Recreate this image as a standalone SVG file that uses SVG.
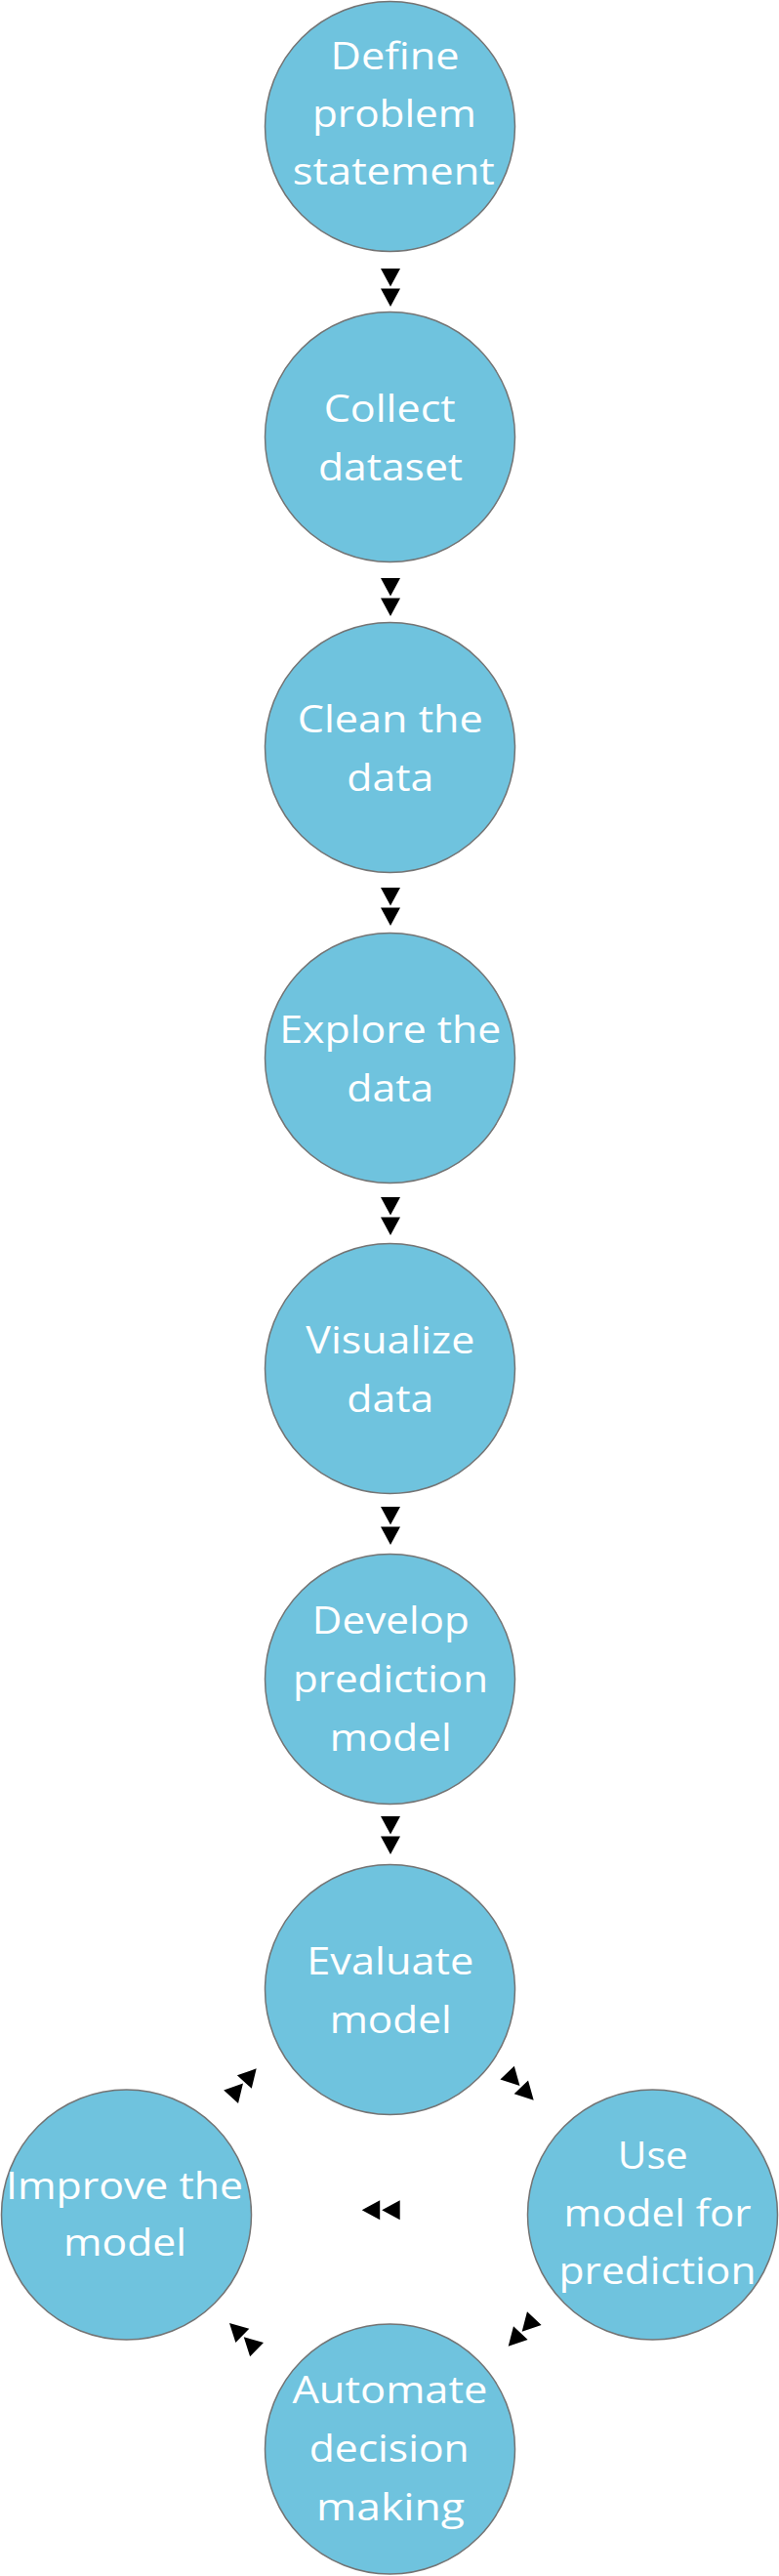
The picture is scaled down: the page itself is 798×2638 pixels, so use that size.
<svg xmlns="http://www.w3.org/2000/svg" xmlns:xlink="http://www.w3.org/1999/xlink" width="798" height="2638" viewBox="0 0 798 2638">
<style>
.node circle{fill:#6fc3de;stroke:#747474;stroke-width:1.5}
.node text{fill:#ffffff;font-family:"Open Sans","Noto Sans","Liberation Sans",sans-serif;font-size:38px;text-anchor:middle}
.arr{fill:#000000}
</style>
<defs>
<g id="dbl"><path d="M0,0 L-18.5,-10 L-18.5,10 Z M-20.5,0 L-39,-10 L-39,10 Z"/></g>
</defs>
<rect width="798" height="2638" fill="#ffffff"/>
<g id="connectors" class="arr">
<use xlink:href="#dbl" transform="translate(400,314) rotate(90)"/>
<use xlink:href="#dbl" transform="translate(400,631) rotate(90)"/>
<use xlink:href="#dbl" transform="translate(400,948) rotate(90)"/>
<use xlink:href="#dbl" transform="translate(400,1265) rotate(90)"/>
<use xlink:href="#dbl" transform="translate(400,1582) rotate(90)"/>
<use xlink:href="#dbl" transform="translate(400,1899) rotate(90)"/>
<use xlink:href="#dbl" transform="translate(546.7,2150.7) rotate(46)"/>
<use xlink:href="#dbl" transform="translate(520.7,2402.7) rotate(133)"/>
<use xlink:href="#dbl" transform="translate(235,2379) rotate(224)"/>
<use xlink:href="#dbl" transform="translate(262.7,2118.3) rotate(-48)"/>
<use xlink:href="#dbl" transform="translate(370.7,2263.3) rotate(180)"/>
</g>
<g id="n1" class="node">
<circle cx="399.5" cy="129.5" r="128"/>
<text x="404.5" y="70.5" textLength="132" lengthAdjust="spacingAndGlyphs">Define</text>
<text x="404" y="129.5" textLength="168" lengthAdjust="spacingAndGlyphs">problem</text>
<text x="403.3" y="188.5" textLength="207" lengthAdjust="spacingAndGlyphs">statement</text>
</g>
<g id="n2" class="node">
<circle cx="399.5" cy="447.5" r="128"/>
<text x="399.2" y="431.7" textLength="135" lengthAdjust="spacingAndGlyphs">Collect</text>
<text x="400" y="491.7" textLength="148" lengthAdjust="spacingAndGlyphs">dataset</text>
</g>
<g id="n3" class="node">
<circle cx="399.5" cy="765.5" r="128"/>
<text x="399.8" y="749.5" textLength="190" lengthAdjust="spacingAndGlyphs">Clean the</text>
<text x="399.8" y="809.5" textLength="89" lengthAdjust="spacingAndGlyphs">data</text>
</g>
<g id="n4" class="node">
<circle cx="399.5" cy="1083.5" r="128"/>
<text x="399.8" y="1067.5" textLength="227" lengthAdjust="spacingAndGlyphs">Explore the</text>
<text x="399.8" y="1127.5" textLength="89" lengthAdjust="spacingAndGlyphs">data</text>
</g>
<g id="n5" class="node">
<circle cx="399.5" cy="1401.5" r="128"/>
<text x="399.8" y="1385.5" textLength="173" lengthAdjust="spacingAndGlyphs">Visualize</text>
<text x="399.8" y="1445.5" textLength="89" lengthAdjust="spacingAndGlyphs">data</text>
</g>
<g id="n6" class="node">
<circle cx="399.5" cy="1719.5" r="128"/>
<text x="400.3" y="1673.3" textLength="161" lengthAdjust="spacingAndGlyphs">Develop</text>
<text x="400" y="1733.3" textLength="200" lengthAdjust="spacingAndGlyphs">prediction</text>
<text x="400.2" y="1793.3" textLength="125" lengthAdjust="spacingAndGlyphs">model</text>
</g>
<g id="n7" class="node">
<circle cx="399.5" cy="2037.5" r="128"/>
<text x="399.8" y="2021.5" textLength="171" lengthAdjust="spacingAndGlyphs">Evaluate</text>
<text x="400.2" y="2081.5" textLength="125" lengthAdjust="spacingAndGlyphs">model</text>
</g>
<g id="n8" class="node">
<circle cx="668.5" cy="2268" r="128"/>
<text x="668.7" y="2220.7" textLength="72" lengthAdjust="spacingAndGlyphs">Use</text>
<text x="673.5" y="2280" textLength="192" lengthAdjust="spacingAndGlyphs">model for</text>
<text x="673.5" y="2339.3" textLength="202" lengthAdjust="spacingAndGlyphs">prediction</text>
</g>
<g id="n9" class="node">
<circle cx="399.5" cy="2508" r="128"/>
<text x="399.4" y="2460.8" textLength="200" lengthAdjust="spacingAndGlyphs">Automate</text>
<text x="398.7" y="2521.3" textLength="164" lengthAdjust="spacingAndGlyphs">decision</text>
<text x="400" y="2581" textLength="152" lengthAdjust="spacingAndGlyphs">making</text>
</g>
<g id="n10" class="node">
<circle cx="129.5" cy="2268" r="128"/>
<text x="127.5" y="2251.7" textLength="243" lengthAdjust="spacingAndGlyphs">Improve the</text>
<text x="128" y="2310" textLength="126" lengthAdjust="spacingAndGlyphs">model</text>
</g>
</svg>
